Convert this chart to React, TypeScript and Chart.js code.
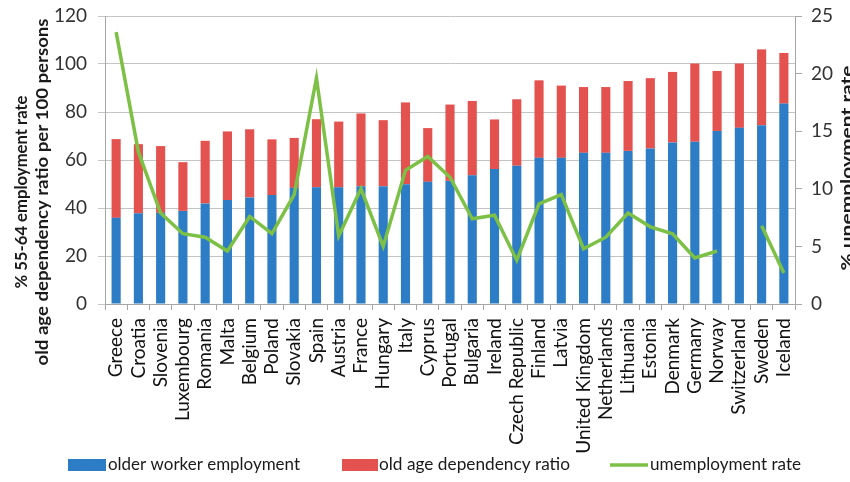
import React, { useEffect, useRef } from "react";
import { Chart, registerables } from "chart.js";

Chart.register(...registerables);

const countries = [
  "Greece", "Croatia", "Slovenia", "Luxembourg", "Romania", "Malta", "Belgium", "Poland",
  "Slovakia", "Spain", "Austria", "France", "Hungary", "Italy", "Cyprus", "Portugal",
  "Bulgaria", "Ireland", "Czech Republic", "Finland", "Latvia", "United Kingdom",
  "Netherlands", "Lithuania", "Estonia", "Denmark", "Germany", "Norway", "Switzerland",
  "Sweden", "Iceland",
];

const olderWorkerEmployment = [
  35.9, 37.8, 38.0, 38.8, 41.9, 43.3, 44.4, 45.4, 48.4, 48.6, 48.6, 49.1, 49.1, 49.9, 50.9, 51.3,
  53.6, 56.2, 57.6, 60.9, 60.9, 63.0, 63.0, 63.8, 64.8, 67.3, 67.6, 72.1, 73.4, 74.5, 83.5,
];

const oldAgeDependencyRatio = [
  32.8, 28.8, 27.8, 20.3, 26.1, 28.6, 28.4, 23.2, 20.8, 28.4, 27.4, 30.3, 27.5, 34.1, 22.4, 31.8,
  31.0, 20.7, 27.7, 32.3, 30.1, 27.4, 27.4, 29.1, 29.3, 29.4, 32.6, 25.0, 26.8, 31.6, 21.1,
];

const unemploymentRate: (number | null)[] = [
  23.6, 13.2, 7.9, 6.1, 5.8, 4.6, 7.6, 6.1, 9.5, 19.6, 5.9, 10.0, 5.0, 11.6, 12.8, 11.0,
  7.4, 7.7, 3.8, 8.7, 9.5, 4.8, 5.8, 7.9, 6.7, 6.1, 4.0, 4.6, null, 6.8, 2.7,
];

const leftTicks = { min: 0, max: 120, step: 20 };
const rightTicks = { min: 0, max: 25, step: 5 };

const leftTitle = ["% 55-64 employment rate", "old age dependency ratio per 100 persons"];
const rightTitle = "% unemployment rate";
const legendLabels = ["older worker employment", "old age dependency ratio", "umemployment rate"];

const BLUE = "#2c7cc6";
const RED = "#e4524f";
const GREEN = "#7cc046";
const FONT = "Lato, 'Open Sans', sans-serif";

function fitText(ctx: CanvasRenderingContext2D, text: string, x: number, y: number, target: number) {
  const w = ctx.measureText(text).width;
  const k = target / w;
  ctx.save();
  ctx.translate(x, y);
  ctx.scale(k, 1);
  ctx.fillText(text, 0, 0);
  ctx.restore();
}

const decorPlugin = {
  id: "decor",
  afterDraw(chart: any) {
    const ctx = chart.ctx as CanvasRenderingContext2D;
    ctx.save();
    ctx.fillStyle = "#1a1a1a";
    ctx.font = `bold 17px ${FONT}`;
    ctx.textAlign = "center";
    ctx.textBaseline = "alphabetic";
    // left titles
    const lx = [27, 48];
    const lw = [193, 347];
    leftTitle.forEach((t, i) => {
      ctx.save();
      ctx.translate(lx[i], 192);
      ctx.rotate(-Math.PI / 2);
      fitText(ctx, t, 0, 0, lw[i]);
      ctx.restore();
    });
    // right title
    ctx.save();
    ctx.translate(853, 168);
    ctx.rotate(-Math.PI / 2);
    fitText(ctx, rightTitle, 0, 0, 205);
    ctx.restore();

    // legend
    ctx.font = `17px ${FONT}`;
    ctx.textAlign = "left";
    ctx.textBaseline = "middle";
    const ly = 465;
    ctx.fillStyle = BLUE;
    ctx.fillRect(68, ly - 6, 38, 12);
    ctx.fillStyle = "#1a1a1a";
    fitText(ctx, legendLabels[0], 108, ly, 192);
    ctx.fillStyle = RED;
    ctx.fillRect(342, ly - 6, 36, 12);
    ctx.fillStyle = "#1a1a1a";
    fitText(ctx, legendLabels[1], 379, ly, 191);
    ctx.strokeStyle = GREEN;
    ctx.lineWidth = 3.5;
    ctx.beginPath();
    ctx.moveTo(610, ly);
    ctx.lineTo(648, ly);
    ctx.stroke();
    fitText(ctx, legendLabels[2], 650, ly, 151);
    ctx.restore();
  },
};

export default function App() {
  const ref = useRef<HTMLCanvasElement>(null);
  useEffect(() => {
    if (!ref.current) return;
    const chart = new Chart(ref.current, {
      type: "bar",
      data: {
        labels: countries,
        datasets: [
          {
            type: "line",
            label: legendLabels[2],
            data: unemploymentRate,
            yAxisID: "y1",
            borderColor: GREEN,
            backgroundColor: GREEN,
            borderWidth: 3.5,
            pointRadius: 0,
            tension: 0,
            spanGaps: false,
            order: 0,
          } as any,
          {
            label: legendLabels[0],
            data: olderWorkerEmployment,
            backgroundColor: BLUE,
            yAxisID: "y",
            order: 1,
            barPercentage: 0.41,
            categoryPercentage: 1,
          },
          {
            label: legendLabels[1],
            data: oldAgeDependencyRatio,
            backgroundColor: RED,
            yAxisID: "y",
            order: 1,
            barPercentage: 0.41,
            categoryPercentage: 1,
          },
        ],
      },
      options: {
        responsive: false,
        animation: false,
        devicePixelRatio: 1,
        layout: { padding: { left: 0, right: 0, top: 16, bottom: 0 } },
        plugins: { legend: { display: false }, tooltip: { enabled: false } },
        scales: {
          x: {
            stacked: true,
            offset: true,
            grid: { display: true, drawOnChartArea: false, tickLength: 6, color: "#a6a6a6", offset: true },
            border: { color: "#a6a6a6" },
            ticks: {
              minRotation: 90,
              maxRotation: 90,
              autoSkip: false,
              padding: 8,
              color: "#111",
              font: { family: FONT, size: 19 },
            },
            afterFit: (s: any) => {
              s.height = 178;
              s.paddingLeft = 0;
              s.paddingRight = 0;
            },
          },
          y: {
            stacked: true,
            position: "left",
            min: leftTicks.min,
            max: leftTicks.max,
            grid: { color: "#c4c4c4", tickLength: 7 },
            border: { color: "#a6a6a6" },
            ticks: {
              stepSize: leftTicks.step,
              padding: 11,
              color: "#333",
              font: { family: FONT, size: 19 },
            },
            afterFit: (s: any) => {
              s.width = 105;
              s.paddingTop = 0;
              s.paddingBottom = 0;
            },
          },
          y1: {
            position: "right",
            min: rightTicks.min,
            max: rightTicks.max,
            grid: { drawOnChartArea: false, tickLength: 7, color: "#a6a6a6" },
            border: { color: "#a6a6a6" },
            ticks: {
              stepSize: rightTicks.step,
              padding: 9,
              color: "#333",
              font: { family: FONT, size: 19 },
            },
            afterFit: (s: any) => {
              s.width = 55;
              s.paddingTop = 0;
              s.paddingBottom = 0;
            },
          },
        },
      },
      plugins: [decorPlugin],
    });
    return () => chart.destroy();
  }, []);
  return (
    <div style={{ position: "absolute", left: 0, top: 0, width: 850, height: 482, overflow: "hidden", background: "#fff" }}>
      <canvas ref={ref} width={850} height={482} style={{ width: 850, height: 482, display: "block" }} />
    </div>
  );
}
